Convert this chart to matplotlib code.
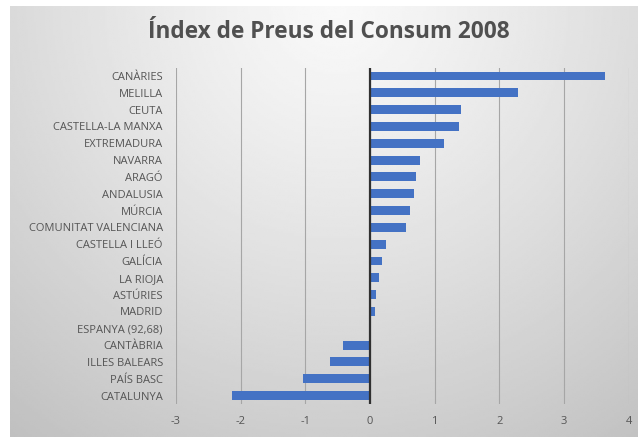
import numpy as np
import matplotlib
matplotlib.use("Agg")
import matplotlib.pyplot as plt

# data (top to bottom)
regions = ["CANÀRIES", "MELILLA", "CEUTA", "CASTELLA-LA MANXA", "EXTREMADURA",
           "NAVARRA", "ARAGÓ", "ANDALUSIA", "MÚRCIA", "COMUNITAT VALENCIANA",
           "CASTELLA I LLEÓ", "GALÍCIA", "LA RIOJA", "ASTÚRIES", "MADRID",
           "ESPANYA (92,68)", "CANTÀBRIA", "ILLES BALEARS", "PAÍS BASC", "CATALUNYA"]
values = [3.64, 2.29, 1.40, 1.38, 1.14,
          0.77, 0.71, 0.68, 0.62, 0.55,
          0.25, 0.18, 0.14, 0.09, 0.07,
          0.0, -0.41, -0.62, -1.04, -2.13]
xticks = [-3, -2, -1, 0, 1, 2, 3, 4]
title = "Índex de Preus del Consum 2008"

W, H = 638, 437
fig = plt.figure(figsize=(W / 100, H / 100), dpi=100, facecolor="white")

# gradient chart background
bg = fig.add_axes([10 / W, 0, 1 - 10 / W, 1 - 6 / H])
ny, nx = 200, 300
yy, xx = np.mgrid[0:1:ny * 1j, 0:1:nx * 1j]
dist = np.sqrt(((xx - 0.52) / 0.72) ** 2 + ((yy - 0.0) / 1.05) ** 2)
shade = 0.975 - 0.18 * np.clip(dist, 0, 1.3) ** 1.2
bg.imshow(shade, cmap="gray", vmin=0, vmax=1, aspect="auto",
          extent=[0, 1, 1, 0], interpolation="bilinear")
bg.axis("off")

ax = fig.add_axes([176 / W, 1 - 404 / H, (628.7 - 176) / W, (404 - 67.6) / H])
ax.set_facecolor("none")

pos = np.arange(len(regions))
ax.barh(pos, values, height=0.53, color="#4472C4", zorder=3)
ax.set_ylim(len(regions) - 0.5, -0.5)
ax.set_xlim(-3, 4)

ax.set_yticks(pos)
ax.set_yticklabels(regions, fontsize=8, color="#555555", family="Open Sans")
ax.set_xticks(xticks)
ax.set_xticklabels([str(t) for t in xticks], fontsize=8, color="#555555", family="Open Sans")
ax.tick_params(length=0)
ax.tick_params(axis="x", pad=9)
ax.tick_params(axis="y", pad=9.5)

ax.grid(axis="x", color="#a6a6a6", linewidth=0.8, zorder=1)
ax.axvline(0, color="#303030", linewidth=1.6, zorder=4)
for s in ax.spines.values():
    s.set_visible(False)

fig.text(329 / W, 1 - 32 / H, title, ha="center", va="center",
         fontsize=16.3, color="#505050", family="Open Sans", weight="bold")

fig.savefig("out.png", dpi=100)
